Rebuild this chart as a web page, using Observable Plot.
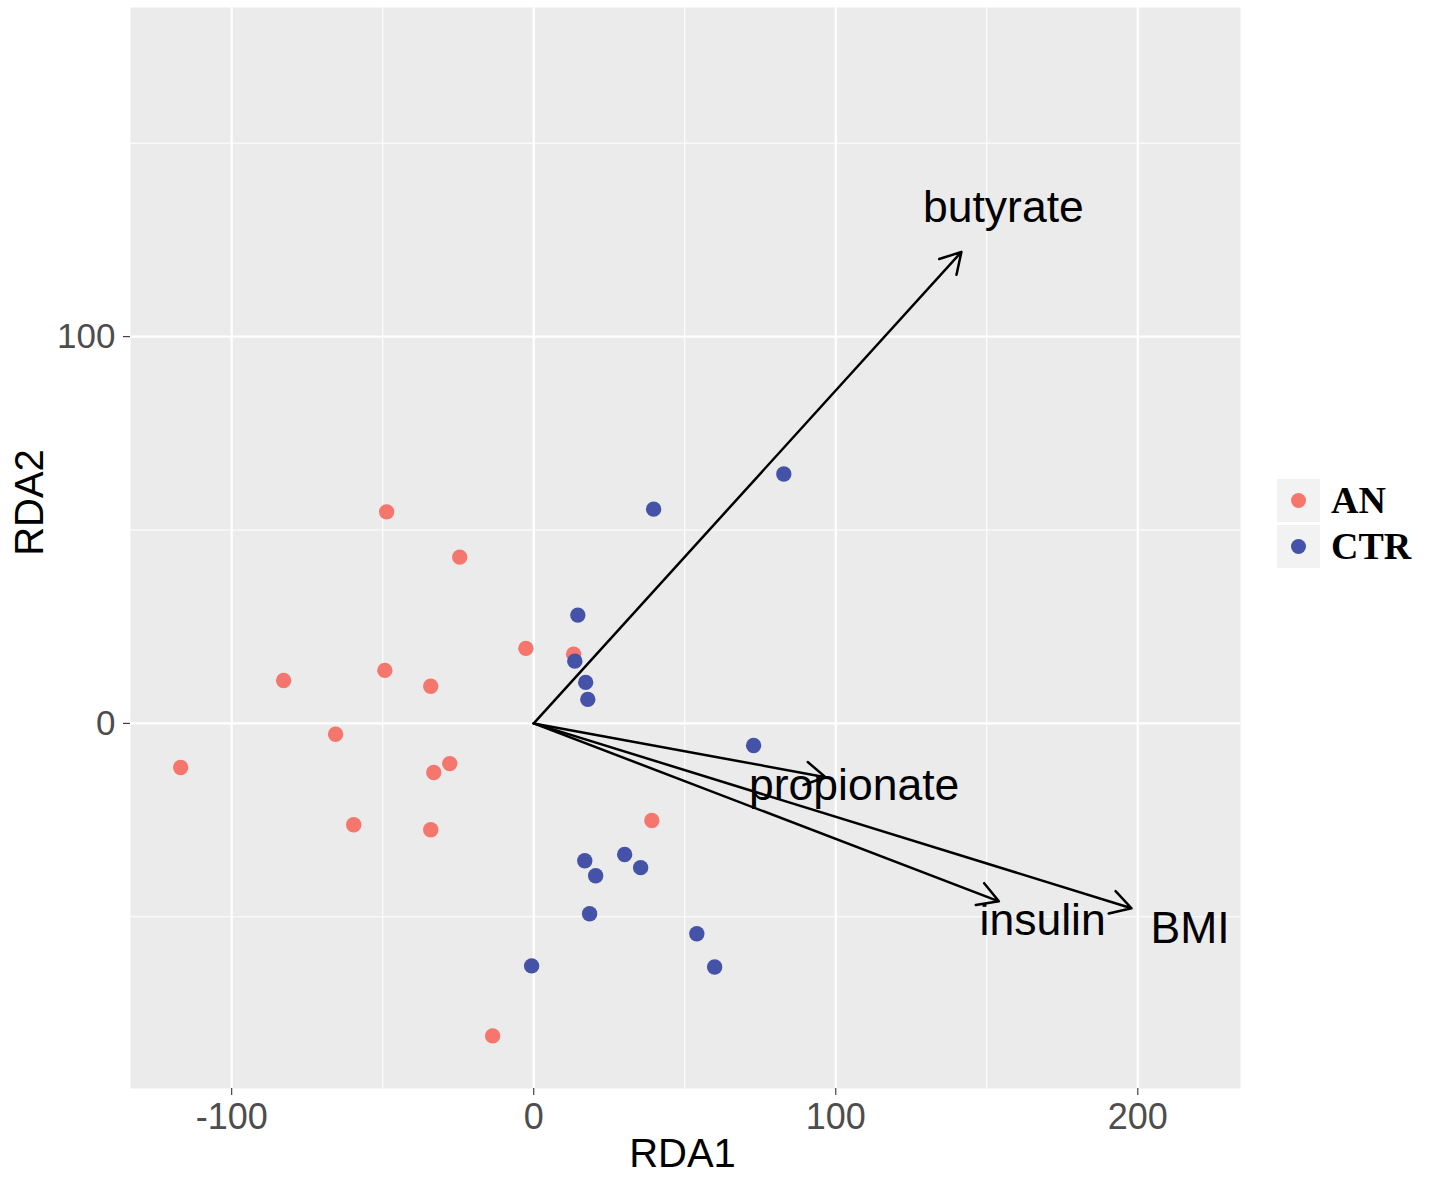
<!DOCTYPE html>
<html>
<head>
<meta charset="utf-8">
<script src="https://cdn.jsdelivr.net/npm/d3@7"></script>
<script src="https://cdn.jsdelivr.net/npm/@observablehq/plot@0.6"></script>
<style>
  html, body { margin: 0; padding: 0; background: white; }
  #wrap { position: relative; width: 1430px; height: 1177px; }
  #legend { position: absolute; left: 1277px; top: 479px; font-family: "Liberation Serif", "Times New Roman", serif; font-weight: bold; font-size: 38px; color: #000; }
  .row { position: relative; height: 46px; }
  .key { position: absolute; left: 0; top: 0; width: 43px; height: 43px; background: #F2F2F2; }
  .key span { position: absolute; left: 14px; top: 14px; width: 15px; height: 15px; border-radius: 50%; }
  .lab { position: absolute; left: 54px; top: 0; line-height: 43px; white-space: nowrap; }
</style>
</head>
<body>
<div id="wrap"></div>
<script>
// Group names and colours
const groups = ["AN", "CTR"];
const groupColors = ["#F4766D", "#4453A7"];

// Sample scores (RDA1, RDA2)
const anX = [-48.7, -24.5, -2.6, 13.2, -82.8, -49.3, -34.1, -65.6, -116.9, -33.1, -27.8, -59.6, -34.1, 39.1, -13.6];
const anY = [54.7, 43.0, 19.4, 17.9, 11.1, 13.7, 9.6, -2.8, -11.4, -12.7, -10.4, -26.2, -27.5, -25.1, -80.8];
const ctrX = [82.8, 39.7, 14.6, 13.6, 17.2, 17.9, 72.8, 16.9, 30.1, 20.5, 35.4, 18.5, 54.0, 59.9, -0.7];
const ctrY = [64.5, 55.4, 28.0, 16.1, 10.6, 6.2, -5.7, -35.5, -33.9, -39.4, -37.3, -49.2, -54.4, -63.0, -62.7];

// Environmental vectors (arrow tips) and their label positions
const varNames = ["butyrate", "propionate", "insulin", "BMI"];
const varX = [141.6, 96.6, 154.0, 197.9];
const varY = [121.9, -13.9, -46.0, -47.8];
const labX = [155.5, 106.1, 168.5, 217.3];
const labY = [133.2, -16.2, -51.1, -53.1];

// Axis ticks
const xTicks = [-100, 0, 100, 200];
const xMinor = [-50, 50, 150];
const yTicks = [0, 100];
const yMinor = [-50, 50, 150];

const xDomain = [-133.5, 234.0];
const yDomain = [-94.4, 185.1];

const points = [
  ...anX.map((x, i) => ({x, y: anY[i], group: "AN"})),
  ...ctrX.map((x, i) => ({x, y: ctrY[i], group: "CTR"}))
];
const vectors = varNames.map((name, i) => ({name, x: varX[i], y: varY[i], lx: labX[i], ly: labY[i]}));

const chart = Plot.plot({
  width: 1430,
  height: 1177,
  marginLeft: 130,
  marginRight: 190,
  marginTop: 7,
  marginBottom: 89,
  style: {fontFamily: "'Liberation Sans', Arial, sans-serif", background: "white", overflow: "visible"},
  x: {domain: xDomain},
  y: {domain: yDomain},
  color: {domain: groups, range: groupColors},
  marks: [
    Plot.frame({fill: "#EBEBEB", stroke: "none"}),
    Plot.gridX(xMinor, {stroke: "white", strokeOpacity: 1, strokeWidth: 1.1}),
    Plot.gridY(yMinor, {stroke: "white", strokeOpacity: 1, strokeWidth: 1.1}),
    Plot.gridX(xTicks, {stroke: "white", strokeOpacity: 1, strokeWidth: 2.2}),
    Plot.gridY(yTicks, {stroke: "white", strokeOpacity: 1, strokeWidth: 2.2}),
    Plot.axisX({ticks: xTicks, tickSize: 7, tickPadding: 8, fontSize: 36, stroke: "#333333", fill: "#4D4D4D", strokeWidth: 1.1, tickFormat: d => String(d), label: null}),
    Plot.axisY({ticks: yTicks, tickSize: 7, tickPadding: 8, fontSize: 35, stroke: "#333333", fill: "#4D4D4D", strokeWidth: 1.1, tickFormat: d => String(d), label: null}),
    Plot.text(["RDA1"], {frameAnchor: "bottom", textAnchor: "middle", lineAnchor: "middle", dx: -3, dy: 66, fontSize: 40, fill: "black"}),
    Plot.text(["RDA2"], {frameAnchor: "left", textAnchor: "middle", lineAnchor: "middle", dx: -100, dy: -45.5, rotate: -90, fontSize: 40, fill: "black"}),
    Plot.dot(points, {x: "x", y: "y", fill: "group", r: 7.7, stroke: "none"}),
    Plot.arrow(vectors, {x1: () => 0, y1: () => 0, x2: "x", y2: "y", stroke: "black", strokeWidth: 2.5, headLength: 14, headAngle: 60, insetEnd: 0, insetStart: 0}),
    Plot.text(vectors, {x: "lx", y: "ly", text: "name", fontSize: 44.5, fill: "black", textAnchor: "middle", lineAnchor: "middle"})
  ]
});

const wrap = document.getElementById("wrap");
wrap.appendChild(chart);

const legend = document.createElement("div");
legend.id = "legend";
groups.forEach((g, i) => {
  const row = document.createElement("div");
  row.className = "row";
  row.innerHTML = `<div class="key"><span style="background:${groupColors[i]}"></span></div><div class="lab">${g}</div>`;
  legend.appendChild(row);
});
wrap.appendChild(legend);
</script>
</body>
</html>
